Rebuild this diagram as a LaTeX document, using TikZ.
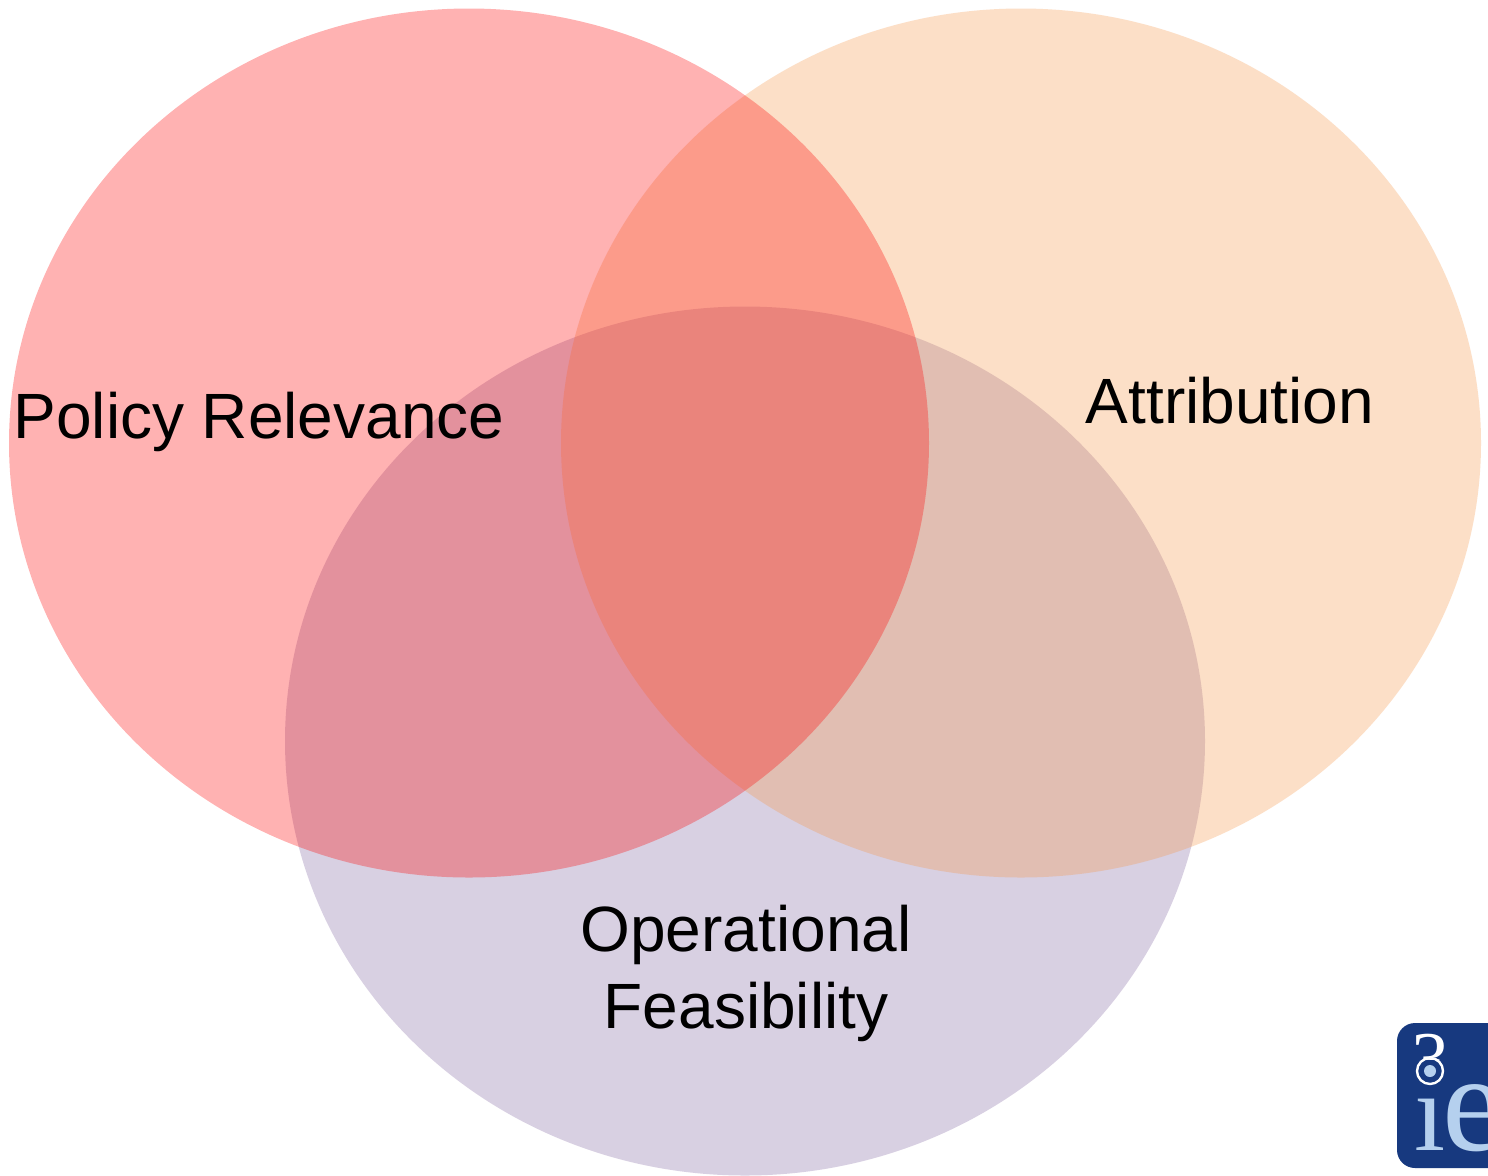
\documentclass[tikz,border=0pt]{standalone}
\usepackage{fontspec}
\setmainfont{Liberation Sans}
\newfontfamily\logofont{Liberation Serif}
\usetikzlibrary{shapes.geometric}
\definecolor{cred}{HTML}{FF0000}
\definecolor{corange}{HTML}{F79646}
\definecolor{cpurple}{HTML}{8064A2}
\definecolor{logoblue}{HTML}{17397F}
\definecolor{logolight}{HTML}{B5D0EE}
\tikzset{x=0.5pt,y=-0.5pt,
 venn/.style={ellipse,minimum width=460pt,minimum height=434.5pt,inner sep=0pt,draw=none},
 lab/.style={font=\fontsize{32pt}{38.5pt}\selectfont,text=black,align=center,inner sep=0pt},
 logotext/.style={text=logolight,inner sep=0pt}}
\begin{document}
\begin{tikzpicture}
\useasboundingbox (0,0) rectangle (1488,1175);
\fill[white] (0,0) rectangle (1488,1175);
\node[venn,fill=cpurple,fill opacity=0.30] (oper) at (745,741) {};
\node[venn,fill=corange,fill opacity=0.30] (attr) at (1021,443) {};
\node[venn,fill=cred,fill opacity=0.30] (policy) at (469,443) {};
\node[lab] (t1) at (259,422) {Policy Relevance};
\node[lab] (t2) at (1230,401) {Attribution};
\node[lab] (t3) at (746,973) {Operational\\Feasibility};
\begin{scope}
\clip (1380,1010) rectangle (1488,1175);
\fill[logoblue,rounded corners=9pt] (1397,1023) rectangle (1530,1168);
\begin{scope}
\clip (1400,1025) rectangle (1460,1059);
\node[logotext,text=white,font=\logofont\fontsize{38pt}{38pt}\selectfont] (l3) at (1430,1060) {3};
\end{scope}
\draw[white,line width=1.2pt] (1430,1071) circle (13);
\fill[logolight] (1430,1071) circle (6);
\node[logotext,font=\logofont\fontsize{56pt}{56pt}\selectfont,anchor=base] (li) at (1430,1150) {ı};
\node[logotext,font=\logofont\fontsize{70pt}{70pt}\selectfont,anchor=base west] (le) at (1442,1150) {e};
\end{scope}
\end{tikzpicture}
\end{document}
